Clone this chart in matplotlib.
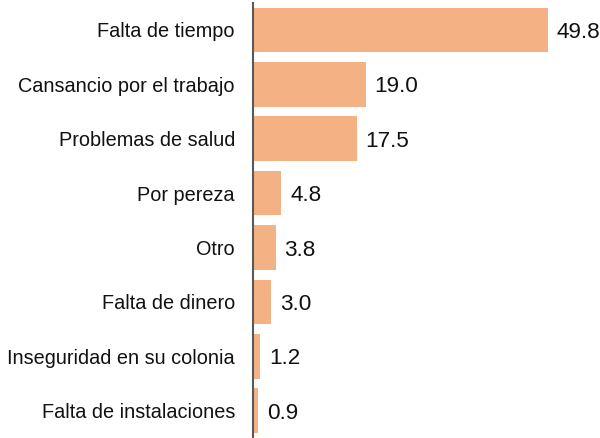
import matplotlib
matplotlib.use("Agg")
import matplotlib.pyplot as plt

categorias = ["Falta de tiempo", "Cansancio por el trabajo", "Problemas de salud",
              "Por pereza", "Otro", "Falta de dinero",
              "Inseguridad en su colonia", "Falta de instalaciones"]
porcentajes = [49.8, 19.0, 17.5, 4.8, 3.8, 3.0, 1.2, 0.9]

plt.rcParams['font.family'] = ['Liberation Sans', 'DejaVu Sans']

fig = plt.figure(figsize=(6, 4.38), dpi=100)
ax = fig.add_axes([0.4217, 0, 0.5783, 1])

pos = list(range(len(categorias)))
ax.barh(pos, porcentajes, height=0.82, color='#F4B183')

for p, v in zip(pos, porcentajes):
    ax.text(v + 1.5, p, f"{v:.1f}", va='center_baseline', ha='left', fontsize=16.2, color='#111111')

ax.set_yticks(pos)
ax.set_yticklabels(categorias, fontsize=14.3, color='#111111')
ax.tick_params(axis='y', length=0, pad=13)
ax.set_xticks([])
ax.set_xlim(0, 58.6)
ax.set_ylim(7.5, -0.551)

for s in ['top', 'right', 'bottom']:
    ax.spines[s].set_visible(False)
ax.spines['left'].set_color('#595959')
ax.spines['left'].set_linewidth(1.5)
ax.spines['left'].set_bounds(-0.5, 7.5)

fig.savefig("out.png", dpi=100)
